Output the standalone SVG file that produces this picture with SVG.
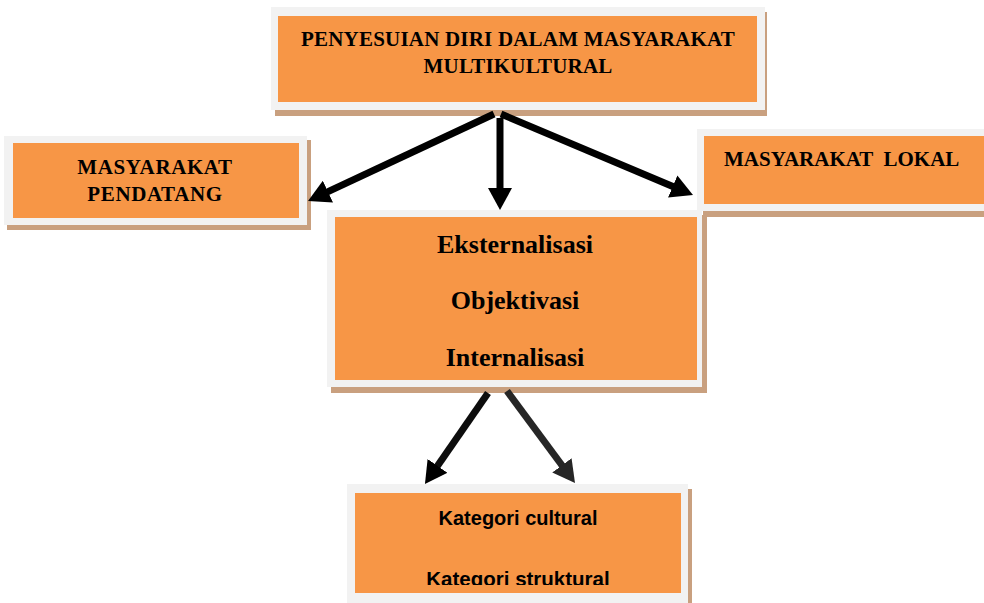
<svg xmlns="http://www.w3.org/2000/svg" width="984" height="603" viewBox="0 0 984 603">
<style>
.shadow{fill:#c9a07f}
.frame{fill:#f2f2f2}
.box{fill:#f79646}
.serif{font-family:"Liberation Serif","Times New Roman",serif;font-weight:bold;fill:#000}
.sans{font-family:"Liberation Sans",Arial,sans-serif;font-weight:bold;fill:#000}
.arrow{stroke-width:7;fill:none;stroke-linecap:butt}
</style>
<defs>
<marker id="headK" viewBox="0 0 22 24" refX="4" refY="12" markerWidth="22" markerHeight="24" markerUnits="userSpaceOnUse" orient="auto">
<path d="M0,0 L22,12 L0,24 z" fill="#000"/>
</marker>
<marker id="headD" viewBox="0 0 22 24" refX="4" refY="12" markerWidth="22" markerHeight="24" markerUnits="userSpaceOnUse" orient="auto">
<path d="M0,0 L22,12 L0,24 z" fill="#262626"/>
</marker>
<clipPath id="clipBottom"><rect x="355" y="493" width="326" height="92"/></clipPath>
</defs>

<g id="node-top">
<rect class="shadow" x="275" y="12" width="492" height="104"/>
<rect class="frame" x="271" y="7" width="494" height="103"/>
<rect class="box" x="278" y="16" width="479" height="86"/>
<text class="serif" font-size="21" x="518" y="46" text-anchor="middle" letter-spacing="0.2">PENYESUIAN DIRI DALAM MASYARAKAT</text>
<text class="serif" font-size="21" x="518" y="73" text-anchor="middle" letter-spacing="0.2">MULTIKULTURAL</text>
</g>

<g id="node-pendatang">
<rect class="shadow" x="7" y="140" width="304" height="90"/>
<rect class="frame" x="4" y="136" width="303" height="89"/>
<rect class="box" x="13" y="143" width="286" height="75"/>
<text class="serif" font-size="21" x="155" y="174" text-anchor="middle" letter-spacing="0.6">MASYARAKAT</text>
<text class="serif" font-size="21" x="155" y="201" text-anchor="middle" letter-spacing="0.6">PENDATANG</text>
</g>

<g id="node-lokal">
<rect class="shadow" x="703" y="134" width="300" height="83"/>
<rect class="frame" x="697" y="129" width="300" height="82"/>
<rect class="box" x="704" y="136" width="290" height="68"/>
<text class="serif" font-size="21" x="724" y="166" xml:space="preserve">MASYARAKAT  LOKAL</text>
</g>

<g id="node-process">
<rect class="shadow" x="331" y="215" width="376" height="178"/>
<rect class="frame" x="327" y="210" width="375" height="177"/>
<rect class="box" x="335" y="217" width="362" height="163"/>
<text class="serif" font-size="26" x="515" y="253" text-anchor="middle">Eksternalisasi</text>
<text class="serif" font-size="26" x="515" y="309" text-anchor="middle">Objektivasi</text>
<text class="serif" font-size="26" x="515" y="366" text-anchor="middle">Internalisasi</text>
</g>

<g id="node-kategori">
<rect class="shadow" x="351" y="489" width="341" height="125"/>
<rect class="frame" x="347" y="484" width="341" height="125"/>
<rect class="box" x="355" y="493" width="326" height="100"/>
<text class="sans" font-size="20" x="518" y="525" text-anchor="middle">Kategori cultural</text>
<text class="sans" font-size="20.5" x="518" y="586" text-anchor="middle" clip-path="url(#clipBottom)">Kategori struktural</text>
</g>

<g id="connectors">
<line class="arrow" stroke="#000" x1="494" y1="114" x2="324.3" y2="193.3" marker-end="url(#headK)"/>
<line class="arrow" stroke="#000" x1="500" y1="118" x2="500" y2="192" marker-end="url(#headK)"/>
<line class="arrow" stroke="#000" x1="501" y1="114" x2="676.4" y2="188" marker-end="url(#headK)"/>
<line class="arrow" stroke="#0d0d0d" x1="488" y1="393" x2="435.2" y2="469.2" marker-end="url(#headK)"/>
<line class="arrow" stroke="#262626" x1="507" y1="391" x2="564.3" y2="468.5" marker-end="url(#headD)"/>
</g>
</svg>
